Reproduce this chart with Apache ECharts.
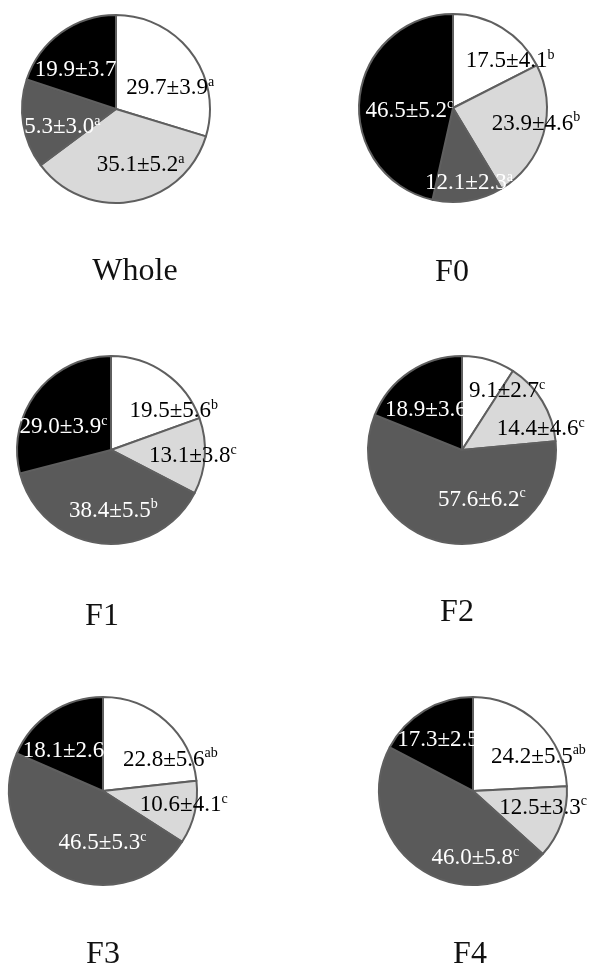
<!DOCTYPE html>
<html>
<head>
    <meta charset="utf-8">
    <script src="https://cdn.jsdelivr.net/npm/echarts@6/dist/echarts.min.js"></script>
    <style>
        html, body { margin: 0; padding: 0; background: #fff; }
    </style>
</head>
<body>
<div id="main" style="width: 604px;height:966px;"></div>
<script type="text/javascript">
    // groups (one pie each)
    var groups = ['Whole', 'F0', 'F1', 'F2', 'F3', 'F4'];
    // slice values, clockwise from 12 o'clock: white, light gray, dark gray, black
    var whiteVals = [29.7, 17.5, 19.5, 9.1, 22.8, 24.2];
    var lightVals = [35.1, 23.9, 13.1, 14.4, 10.6, 12.5];
    var darkVals  = [15.3, 12.1, 38.4, 57.6, 46.5, 46.0];
    var blackVals = [19.9, 46.5, 29.0, 18.9, 18.1, 17.3];
    // standard deviations
    var whiteSD = [3.9, 4.1, 5.6, 2.7, 5.6, 5.5];
    var lightSD = [5.2, 4.6, 3.8, 4.6, 4.1, 3.3];
    var darkSD  = [3.0, 2.3, 5.5, 6.2, 5.3, 5.8];
    var blackSD = [3.7, 5.2, 3.9, 3.6, 2.6, 2.5];
    // significance letters
    var whiteSig = ['a', 'b', 'b', 'c', 'ab', 'ab'];
    var lightSig = ['a', 'b', 'c', 'c', 'c', 'c'];
    var darkSig  = ['a', 'a', 'b', 'c', 'c', 'c'];
    var blackSig = ['a', 'c', 'c', 'c', 'c', 'c'];

    var sliceColors = ['#ffffff', '#d9d9d9', '#5a5a5a', '#000000'];
    var textDark = [true, true, false, false];
    var font = '"Liberation Serif", "Times New Roman", serif';

    // layout of the six pies
    var centers = [[116, 109], [453, 108], [111, 450], [462, 450], [103, 791], [473, 791]];
    var titlePos = [[135, 272], [452, 273], [102, 617], [457, 613], [103, 955], [470, 955]];
    // label nudges (white, light, dark, black) per pie
    var nudges = [
        [[14, 9], [16, 7], [-10, 10], [-8, 1]],
        [[31, -4], [35, 2], [8, 26], [6, 8]],
        [[34, 2], [32, 3], [8, 11], [-8, 8]],
        [[31, -11], [36, 5], [27, 0], [-5, 1]],
        [[34, 6], [32, 3], [23, 8], [-9, 2]],
        [[31, 2], [23, 0], [31, 26], [-6, -8]]
    ];

    var myChart = echarts.init(document.getElementById('main'));

    var series = [];
    var graphics = [];
    for (let i = 0; i < groups.length; i++) {
        let vals = [whiteVals[i], lightVals[i], darkVals[i], blackVals[i]];
        let sds = [whiteSD[i], lightSD[i], darkSD[i], blackSD[i]];
        let sigs = [whiteSig[i], lightSig[i], darkSig[i], blackSig[i]];
        let data = [];
        for (let k = 0; k < 4; k++) {
            data.push({
                name: 'part' + (k + 1),
                value: vals[k],
                sd: sds[k],
                sig: sigs[k],
                itemStyle: { color: sliceColors[k] }
            });
        }
        let nudge = nudges[i];
        series.push({
            type: 'pie',
            center: centers[i],
            radius: 94,
            startAngle: 90,
            clockwise: true,
            silent: true,
            animation: false,
            emphasis: { disabled: true },
            itemStyle: { borderColor: '#5f5f5f', borderWidth: 2 },
            label: {
                show: true,
                position: 'inside',
                formatter: function (p) {
                    let d = p.data;
                    let c = textDark[p.dataIndex] ? 'b' : 'w';
                    return '{v' + c + '|' + d.value.toFixed(1) + '±' + d.sd.toFixed(1) + '}{s' + c + '|' + d.sig + '}';
                },
                rich: {
                    vb: { fontFamily: font, fontSize: 23, color: '#000', lineHeight: 26 },
                    sb: { fontFamily: font, fontSize: 14, color: '#000', lineHeight: 16, verticalAlign: 'top' },
                    vw: { fontFamily: font, fontSize: 23, color: '#fff', lineHeight: 26 },
                    sw: { fontFamily: font, fontSize: 14, color: '#fff', lineHeight: 16, verticalAlign: 'top' }
                }
            },
            labelLine: { show: false },
            labelLayout: function (p) {
                return { dx: nudge[p.dataIndex][0], dy: nudge[p.dataIndex][1] };
            },
            data: data
        });
        graphics.push({
            type: 'text',
            x: titlePos[i][0],
            y: titlePos[i][1],
            style: {
                text: groups[i],
                font: '32px ' + font,
                fill: '#111',
                textAlign: 'center',
                textVerticalAlign: 'middle'
            }
        });
    }

    myChart.setOption({
        backgroundColor: '#fff',
        animation: false,
        graphic: graphics,
        series: series
    });
</script>
</body>
</html>
